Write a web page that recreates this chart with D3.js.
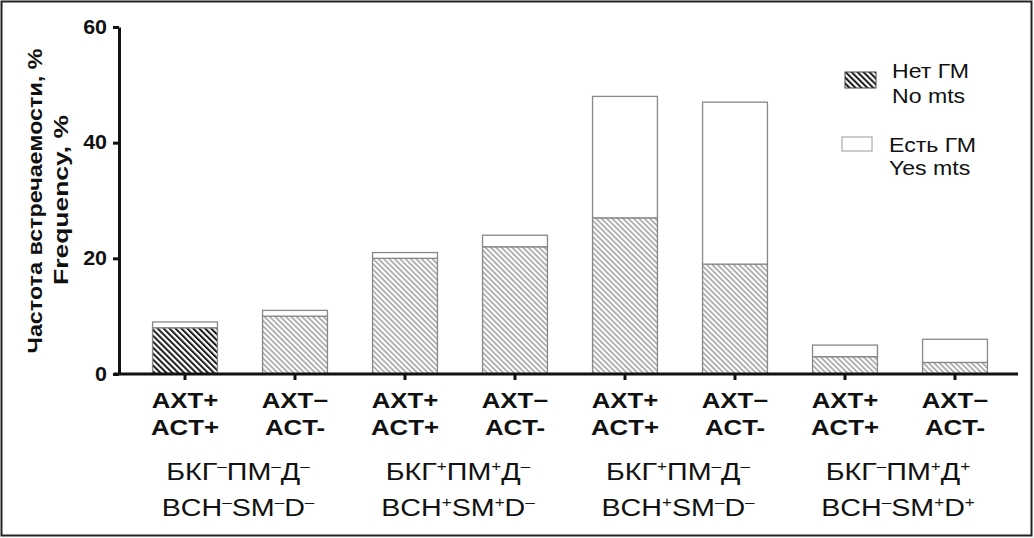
<!DOCTYPE html>
<html>
<head>
<meta charset="utf-8">
<script src="https://cdn.jsdelivr.net/npm/d3@7"></script>
<style>
  body { margin: 0; background: #fff; }
  text { font-family: "Liberation Sans", Arial, sans-serif; fill: #111; }
</style>
</head>
<body>
<div id="chart"></div>
<script>
// values
var rowTop = ["AXT+", "AXT\u2212", "AXT+", "AXT\u2212", "AXT+", "AXT\u2212", "AXT+", "AXT\u2212"];
var rowBottom = ["ACT+", "ACT-", "ACT+", "ACT-", "ACT+", "ACT-", "ACT+", "ACT-"];
var noMts = [8, 10, 20, 22, 27, 19, 3, 2];
var yesMts = [1, 1, 1, 2, 21, 28, 2, 4];
var groupRu = ["БКГ-ПМ-Д-", "БКГ+ПМ+Д-", "БКГ+ПМ-Д-", "БКГ-ПМ+Д+"];
var groupEn = ["BCH-SM-D-", "BCH+SM+D-", "BCH+SM-D-", "BCH-SM+D+"];
var yTicks = [0, 20, 40, 60];

var svgWidth = 1034, svgHeight = 538;

var svg = d3.select("#chart")
  .append("svg")
  .attr("width", svgWidth)
  .attr("height", svgHeight);

// hatch patterns
var defs = svg.append("defs");
defs.append("pattern")
  .attr("id", "hatchDark")
  .attr("patternUnits", "userSpaceOnUse")
  .attr("width", 4.2).attr("height", 4.2)
  .attr("patternTransform", "rotate(-45)")
  .append("line")
  .attr("x1", 1).attr("y1", 0).attr("x2", 1).attr("y2", 4.2)
  .attr("stroke", "#1a1a1a").attr("stroke-width", 2);

defs.append("pattern")
  .attr("id", "hatchLight")
  .attr("patternUnits", "userSpaceOnUse")
  .attr("width", 3.8).attr("height", 3.8)
  .attr("patternTransform", "rotate(-45)")
  .append("line")
  .attr("x1", 1).attr("y1", 0).attr("x2", 1).attr("y2", 3.8)
  .attr("stroke", "#777").attr("stroke-width", 1.1);

// outer frame
svg.append("rect")
  .attr("x", 1.5).attr("y", 1.5)
  .attr("width", svgWidth - 4).attr("height", svgHeight - 4)
  .attr("fill", "none")
  .attr("stroke", "#222")
  .attr("stroke-width", 2);

var x = d3.scaleBand()
  .domain(d3.range(noMts.length))
  .range([130, 1010])
  .paddingInner(0.41)
  .paddingOuter(0.205);

var y = d3.scaleLinear()
  .domain([0, 60])
  .range([374, 27]);

// bars
var bars = svg.append("g");
noMts.forEach(function(v, i) {
  bars.append("rect")
    .attr("x", x(i))
    .attr("y", y(v))
    .attr("width", x.bandwidth())
    .attr("height", y(0) - y(v))
    .attr("fill", i === 0 ? "url(#hatchDark)" : "url(#hatchLight)")
    .attr("stroke", "#888")
    .attr("stroke-width", 1.3);
  bars.append("rect")
    .attr("x", x(i))
    .attr("y", y(v + yesMts[i]))
    .attr("width", x.bandwidth())
    .attr("height", y(v) - y(v + yesMts[i]))
    .attr("fill", "#fff")
    .attr("stroke", "#888")
    .attr("stroke-width", 1.3);
});

// y axis
var yAxis = svg.append("g")
  .attr("transform", "translate(119,0)")
  .call(d3.axisLeft(y).tickValues(yTicks).tickSize(6).tickSizeOuter(0));
yAxis.select(".domain").attr("stroke", "#111").attr("stroke-width", 3);
yAxis.selectAll(".tick line").attr("stroke", "#111").attr("stroke-width", 3);
yAxis.selectAll(".tick text")
  .attr("font-size", 19.5).attr("font-weight", "bold")
  .attr("font-family", "Liberation Sans, Arial, sans-serif")
  .attr("fill", "#111")
  .attr("x", -12 / 1.1)
  .attr("transform", "scale(1.1,1)");

// x axis
var xAxis = svg.append("g")
  .attr("transform", "translate(0,374)")
  .call(d3.axisBottom(x).tickSize(6).tickSizeOuter(0).tickFormat(""));
xAxis.select(".domain").attr("d", "M114,0H1018").attr("stroke", "#111").attr("stroke-width", 3);
xAxis.selectAll(".tick line").attr("stroke", "#111").attr("stroke-width", 3);

// category labels
var labels = svg.append("g")
  .attr("font-size", 21.5).attr("font-weight", "bold").attr("text-anchor", "middle");
rowTop.forEach(function(t, i) {
  var cx = x(i) + x.bandwidth() / 2;
  labels.append("text").attr("transform", "translate(" + cx + ",408) scale(1.2,1)").text(t);
  labels.append("text").attr("transform", "translate(" + cx + ",434.5) scale(1.2,1)").text(rowBottom[i]);
});

// group labels with superscript signs
function supText(sel, s) {
  s.split(/([+\-])/).forEach(function(p) {
    if (p === "") return;
    if (p === "+" || p === "-") {
      sel.append("tspan")
        .attr("font-size", 14)
        .attr("baseline-shift", "62%")
        .text(p === "+" ? "+" : "\u2013");
    } else {
      sel.append("tspan").text(p);
    }
  });
}
var groups = svg.append("g").attr("font-size", 23.5).attr("text-anchor", "middle");
groupRu.forEach(function(g, k) {
  var cx = (x(2 * k) + x(2 * k + 1) + x.bandwidth()) / 2 - 2;
  supText(groups.append("text").attr("transform", "translate(" + cx + ",480) scale(1.22,1)"), g);
  supText(groups.append("text").attr("transform", "translate(" + cx + ",516) scale(1.22,1)"), groupEn[k]);
});

// y axis title
var yTitle = svg.append("g")
  .attr("font-size", 21).attr("font-weight", "bold").attr("text-anchor", "middle");
yTitle.append("text")
  .attr("transform", "translate(42,201) rotate(-90) scale(1.11,1)")
  .text("Частота встречаемости, %");
yTitle.append("text")
  .attr("transform", "translate(68,200) rotate(-90) scale(1.26,1)")
  .text("Frequency, %");

// legend
var legend = svg.append("g").attr("font-size", 21);
legend.append("rect")
  .attr("x", 845).attr("y", 72).attr("width", 31).attr("height", 16)
  .attr("fill", "url(#hatchDark)").attr("stroke", "#444").attr("stroke-width", 1);
legend.append("text").attr("transform", "translate(892,78) scale(1.1,1)").text("Нет ГМ");
legend.append("text").attr("transform", "translate(892,103) scale(1.1,1)").text("No mts");
legend.append("rect")
  .attr("x", 842).attr("y", 137).attr("width", 30).attr("height", 14)
  .attr("fill", "#fff").attr("stroke", "#999").attr("stroke-width", 1);
legend.append("text").attr("transform", "translate(889,152) scale(1.1,1)").text("Есть ГМ");
legend.append("text").attr("transform", "translate(889,175) scale(1.1,1)").text("Yes mts");
</script>
</body>
</html>
